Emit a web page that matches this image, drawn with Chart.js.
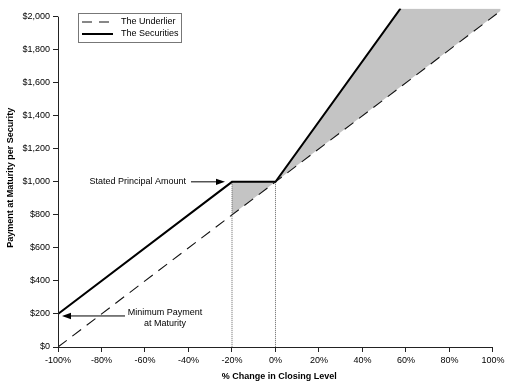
<!DOCTYPE html>
<html>
<head>
<meta charset="utf-8">
<script src="https://cdn.jsdelivr.net/npm/chart.js@4/dist/chart.umd.min.js"></script>
<style>
html, body { margin: 0; padding: 0; background: #fff; }
#wrap { width: 516px; height: 387px; }
</style>
</head>
<body>
<div id="wrap"><canvas id="payoffChart" width="516" height="387"></canvas></div>
<script>
// % change in closing level -> payment at maturity ($)
const underlierX = [-100, 0, 105];
const underlierY = [0, 1000, 2050];
const securitiesX = [-100, -20, 0, 57.5];
const securitiesY = [200, 1000, 1000, 2050];
// grey area where the securities beat the underlier (from -20% up)
const shadeX = [-20, 0, 57.5, 105];
const shadeY = [1000, 1000, 2050, 2050];
// dotted guides dropped from the principal level
const guideX = [-20, 0];
const principal = 1000;
const minPayment = 200;

const xTicks = [-100, -80, -60, -40, -20, 0, 20, 40, 60, 80, 100];
const yTicks = [0, 200, 400, 600, 800, 1000, 1200, 1400, 1600, 1800, 2000];

const FONT = "'Liberation Sans', Arial, sans-serif";
const pts = (xs, ys) => xs.map((x, i) => ({ x: x, y: ys[i] }));

const datasets = [
  {
    label: "The Underlier",
    data: pts(underlierX, underlierY),
    borderColor: "#111",
    borderWidth: 1.1,
    borderDash: [11, 7],
    pointRadius: 0,
    fill: false
  },
  {
    label: "The Securities",
    data: pts(securitiesX, securitiesY),
    borderColor: "#000",
    borderWidth: 2,
    pointRadius: 0,
    fill: false
  }
];

guideX.forEach(x => {
  datasets.push({
    label: "guide",
    data: [{ x: x, y: principal }, { x: x, y: 0 }],
    borderColor: "#666",
    borderWidth: 1,
    borderDash: [1, 1],
    pointRadius: 0,
    fill: false
  });
});

datasets.push({
  label: "shade",
  data: pts(shadeX, shadeY),
  borderWidth: 0,
  borderColor: "rgba(0,0,0,0)",
  backgroundColor: "#c4c4c4",
  pointRadius: 0,
  fill: { target: 0 }
});

// axis lines only run over the labelled range, lines go a bit past it
const axisLines = {
  id: "axisLines",
  afterDatasetsDraw(chart) {
    const { ctx, scales: { x, y } } = chart;
    const x0 = Math.floor(x.getPixelForValue(xTicks[0])) + 0.5;
    const x1 = x.getPixelForValue(xTicks[xTicks.length - 1]);
    const y0 = Math.floor(y.getPixelForValue(yTicks[0])) + 0.5;
    const y1 = y.getPixelForValue(yTicks[yTicks.length - 1]);
    ctx.save();
    ctx.strokeStyle = "#222";
    ctx.lineWidth = 1;
    ctx.beginPath();
    ctx.moveTo(x0, y1);
    ctx.lineTo(x0, y0);
    ctx.lineTo(x1, y0);
    ctx.stroke();
    ctx.restore();
  }
};

function arrow(ctx, fromX, fromY, toX, toY) {
  const ang = Math.atan2(toY - fromY, toX - fromX);
  const len = 9, half = 3.2;
  ctx.beginPath();
  ctx.moveTo(fromX, fromY);
  ctx.lineTo(toX - Math.cos(ang) * len, toY - Math.sin(ang) * len);
  ctx.stroke();
  ctx.beginPath();
  ctx.moveTo(toX, toY);
  ctx.lineTo(toX - Math.cos(ang) * len - Math.sin(ang) * half, toY - Math.sin(ang) * len + Math.cos(ang) * half);
  ctx.lineTo(toX - Math.cos(ang) * len + Math.sin(ang) * half, toY - Math.sin(ang) * len - Math.cos(ang) * half);
  ctx.closePath();
  ctx.fill();
}

// callouts + boxed legend inside the plot
const notes = {
  id: "notes",
  afterDraw(chart) {
    const { ctx, scales: { x, y } } = chart;
    ctx.save();
    ctx.fillStyle = "#000";
    ctx.strokeStyle = "#000";
    ctx.lineWidth = 1;
    ctx.font = "9px " + FONT;
    ctx.textBaseline = "middle";

    // Stated Principal Amount
    let px = x.getPixelForValue(-20), py = y.getPixelForValue(principal);
    arrow(ctx, px - 41, py, px - 7, py);
    ctx.textAlign = "right";
    ctx.fillText("Stated Principal Amount", px - 46, py);

    // Minimum Payment at Maturity
    px = x.getPixelForValue(-100); py = y.getPixelForValue(minPayment);
    arrow(ctx, px + 67, py + 2, px + 4, py + 2);
    ctx.textAlign = "center";
    ctx.fillText("Minimum Payment", px + 107, py - 1.5);
    ctx.fillText("at Maturity", px + 107, py + 9.5);

    // legend
    ctx.strokeStyle = "#777";
    ctx.strokeRect(78.5, 13.5, 103, 29);
    ctx.textAlign = "left";
    [0, 1].forEach((i, row) => {
      const ds = chart.data.datasets[i];
      const ly = 22 + row * 12;
      ctx.strokeStyle = ds.borderColor;
      ctx.lineWidth = ds.borderWidth;
      ctx.setLineDash(ds.borderDash ? [10, 7] : []);
      ctx.beginPath();
      ctx.moveTo(82, ly);
      ctx.lineTo(113, ly);
      ctx.stroke();
      ctx.setLineDash([]);
      ctx.fillStyle = "#000";
      ctx.fillText(ds.label, 121, ly);
    });
    ctx.restore();
  }
};

new Chart(document.getElementById("payoffChart"), {
  type: "line",
  data: { datasets },
  options: {
    responsive: false,
    animation: false,
    layout: { padding: { left: 0, top: 4.6, right: 15.4, bottom: 0 } },
    plugins: {
      legend: { display: false },
      tooltip: { enabled: false }
    },
    scales: {
      x: {
        type: "linear",
        min: -100,
        max: 103.5,
        afterBuildTicks: s => { s.ticks = xTicks.map(v => ({ value: v })); },
        afterFit: s => { s.height = 40; },
        border: { display: false },
        grid: { drawOnChartArea: false, drawTicks: true, tickLength: 5, color: "#222" },
        ticks: {
          padding: 3,
          maxRotation: 0,
          autoSkip: false,
          color: "#000",
          font: { family: FONT, size: 9 },
          callback: v => v + "%"
        },
        title: {
          display: true,
          text: "% Change in Closing Level",
          color: "#000",
          font: { family: FONT, size: 9, weight: "bold" },
          padding: { top: 2, bottom: 5 }
        }
      },
      y: {
        type: "linear",
        min: 0,
        max: 2050,
        afterBuildTicks: s => { s.ticks = yTicks.map(v => ({ value: v })); },
        afterFit: s => { s.width = 58; },
        border: { display: false },
        grid: { drawOnChartArea: false, drawTicks: true, tickLength: 5, color: "#222" },
        ticks: {
          padding: 3,
          autoSkip: false,
          color: "#000",
          font: { family: FONT, size: 9 },
          callback: v => "$" + v.toLocaleString("en-US")
        },
        title: {
          display: true,
          text: "Payment at Maturity per Security",
          color: "#000",
          font: { family: FONT, size: 9, weight: "bold" },
          padding: { top: 5, bottom: 4 }
        }
      }
    }
  },
  plugins: [axisLines, notes]
});
</script>
</body>
</html>
